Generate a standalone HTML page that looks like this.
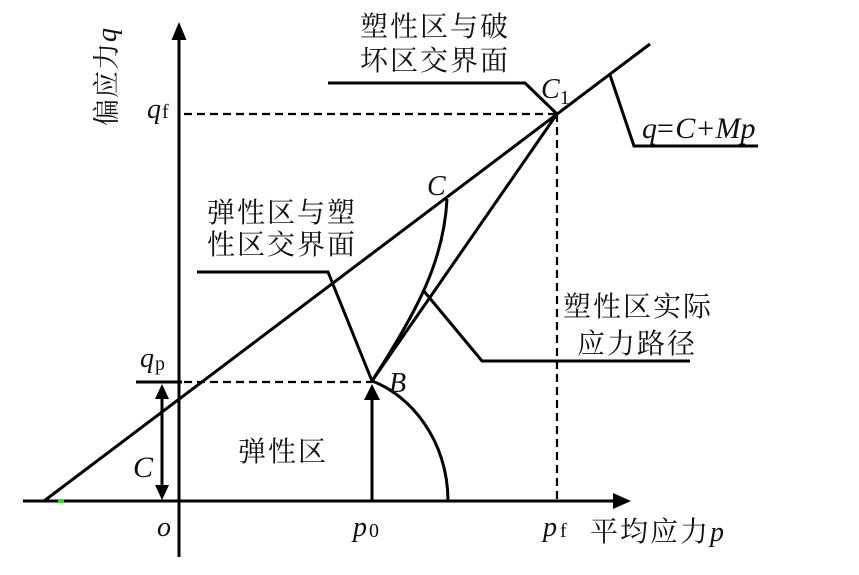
<!DOCTYPE html>
<html><head><meta charset="utf-8"><style>
html,body{margin:0;padding:0;background:#fff;}
svg{display:block;}
.cj{font-family:"Liberation Serif","Noto Serif CJK SC","Noto Sans CJK SC",serif;font-size:28px;letter-spacing:2px;fill:#111;}
.it{font-family:"Liberation Serif",serif;font-style:italic;fill:#111;}
.rm{font-family:"Liberation Serif",serif;font-style:normal;fill:#111;}
</style></head><body>
<svg width="859" height="575" viewBox="0 0 859 575" xmlns="http://www.w3.org/2000/svg">
<g stroke="#000" fill="none" stroke-width="3">
  <line x1="179" y1="557" x2="179" y2="36"/>
  <line x1="23" y1="501" x2="616" y2="501"/>
  <line x1="44" y1="501" x2="650" y2="44"/>
  <line x1="372" y1="381" x2="557" y2="114"/>
  <path d="M447 199 C444 260 418 310 372 381"/>
  <path d="M372 381 C410 395 448 440 448 501"/>
  <line x1="372" y1="501" x2="372" y2="398"/>
  <line x1="162" y1="396" x2="162" y2="488"/>
  <line x1="136" y1="382" x2="182" y2="382"/>
  <polyline points="328,83 525,83 557,114"/>
  <polyline points="197,272 328,272 372,381"/>
  <polyline points="423,290 482,361 690,361"/>
  <polyline points="610,75 634,146 758,146"/>
</g>
<g stroke="#000" fill="none" stroke-width="2.2" stroke-dasharray="8,5">
  <line x1="184" y1="114" x2="557" y2="114"/>
  <line x1="557" y1="114" x2="557" y2="501"/>
  <line x1="184" y1="382" x2="372" y2="382"/>
</g>
<g fill="#000">
  <polygon points="179,22 171.5,40 186.5,40"/>
  <polygon points="631,501 613,493 613,509"/>
  <polygon points="372,384 364,400 380,400"/>
  <polygon points="162,384 155,399 169,399"/>
  <polygon points="162,500 155,485 169,485"/>
</g>
<rect x="58" y="499" width="6" height="4" fill="#2fe02f"/>

<g transform="translate(116,126) rotate(-90)">
  <text class="cj" x="0" y="0" style="font-size:27px;letter-spacing:1px">偏应力<tspan class="it" style="font-size:28px">q</tspan></text>
</g>

<text class="cj" x="360" y="36">塑性区与破</text>
<text class="cj" x="360" y="70">坏区交界面</text>
<text class="cj" x="207" y="222">弹性区与塑</text>
<text class="cj" x="207" y="254">性区交界面</text>
<text class="cj" x="563" y="316">塑性区实际</text>
<text class="cj" x="577" y="353">应力路径</text>
<text class="cj" x="238" y="461">弹性区</text>
<text class="cj" x="590" y="541">平均应力<tspan class="it" style="letter-spacing:0">p</tspan></text>

<text class="it" x="147" y="118" font-size="28">q<tspan class="rm" font-size="20" dx="1">f</tspan></text>
<text class="it" x="140" y="367" font-size="28">q<tspan class="rm" font-size="20" dx="1" dy="3">p</tspan></text>
<text class="it" x="541" y="98" font-size="28">C<tspan class="rm" font-size="20" dy="6">1</tspan></text>
<text class="it" x="642" y="138" font-size="30">q<tspan dx="-2">=</tspan>C+Mp</text>
<text class="it" x="427" y="195" font-size="28">C</text>
<text class="it" x="389" y="392" font-size="28">B</text>
<text class="it" x="133" y="477" font-size="30">C</text>
<text class="it" x="157" y="536" font-size="28">o</text>
<text class="it" x="353" y="536" font-size="28">p<tspan class="rm" font-size="20" dx="2" dy="1">0</tspan></text>
<text class="it" x="543" y="536" font-size="28">p<tspan class="rm" font-size="20" dx="3" dy="1">f</tspan></text>
</svg>
</body></html>
